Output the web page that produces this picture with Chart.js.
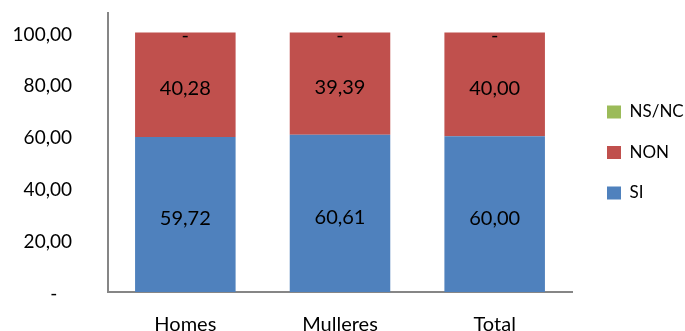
<!DOCTYPE html>
<html>
<head>
<meta charset="utf-8">
<script src="https://cdn.jsdelivr.net/npm/chart.js@4"></script>
<style>
    html, body { margin: 0; padding: 0; background: #ffffff; }
    #wrap { width: 685px; height: 331px; }
</style>
</head>
<body>
<div id="wrap"><canvas id="surveyChart" width="685" height="331"></canvas></div>
<script>
const categories = ["Homes", "Mulleres", "Total"];
const siValues = [59.72, 60.61, 60.00];
const nonValues = [40.28, 39.39, 40.00];
const nsncValues = [0, 0, 0];
const yTicks = [0, 20, 40, 60, 80, 100];

const FONT = "Lato";
const TEXT_COLOR = "#000000";
const AXIS_COLOR = "#868686";

// Excel style: comma decimals, zero shown as a dash
function formatValue(v) {
    if (v === 0) return "-";
    return v.toFixed(2).replace(".", ",");
}

// Value labels in the middle of every segment
const segmentLabels = {
    id: "segmentLabels",
    afterDatasetsDraw(chart) {
        const { ctx } = chart;
        ctx.save();
        ctx.font = `20px ${FONT}`;
        ctx.fillStyle = TEXT_COLOR;
        ctx.textAlign = "center";
        ctx.textBaseline = "middle";
        chart.data.datasets.forEach((ds, i) => {
            const meta = chart.getDatasetMeta(i);
            if (meta.hidden) return;
            meta.data.forEach((bar, j) => {
                const v = ds.data[j];
                const y = v === 0 ? bar.y + 3 : (bar.y + bar.base) / 2 + 4;
                ctx.fillText(formatValue(v), bar.x, y);
            });
        });
        ctx.restore();
    }
};

function buildDataset(label, data, color) {
    return {
        label,
        data,
        backgroundColor: color,
        borderWidth: 0,
        barPercentage: 0.65,
        categoryPercentage: 1
    };
}

// the tick padding should not push the plot area in
function noScalePadding(scale) {
    scale.paddingTop = 0;
    scale.paddingBottom = 0;
    scale.paddingLeft = 0;
    scale.paddingRight = 0;
}

const chart = new Chart(document.getElementById("surveyChart"), {
    type: "bar",
    data: {
        labels: categories,
        datasets: [
            buildDataset("SI", siValues, "#4F81BD"),
            buildDataset("NON", nonValues, "#C0504D"),
            buildDataset("NS/NC", nsncValues, "#9BBB59")
        ]
    },
    options: {
        responsive: false,
        animation: false,
        layout: { padding: { top: 13, right: 0, bottom: 0, left: 0 } },
        plugins: {
            legend: {
                position: "right",
                reverse: true,
                fullSize: false,
                maxWidth: 101.5,
                labels: {
                    boxWidth: 14,
                    boxHeight: 13,
                    padding: 23.5,
                    color: TEXT_COLOR,
                    font: { family: FONT, size: 17 }
                }
            },
            tooltip: { enabled: false }
        },
        scales: {
            x: {
                stacked: true,
                grid: { display: false, drawTicks: false },
                border: { color: AXIS_COLOR, width: 2 },
                ticks: {
                    color: TEXT_COLOR,
                    padding: 21,
                    font: { family: FONT, size: 20 }
                },
                afterFit(scale) {
                    scale.height = 39;
                    noScalePadding(scale);
                }
            },
            y: {
                stacked: true,
                min: 0,
                max: 107.5,
                grid: { display: false, drawTicks: false },
                border: { color: AXIS_COLOR, width: 2 },
                ticks: {
                    color: TEXT_COLOR,
                    padding: 36,
                    labelOffset: 2,
                    font: { family: FONT, size: 19 },
                    callback: v => v === 0 ? "-   " : formatValue(v)
                },
                afterBuildTicks(scale) {
                    scale.ticks = yTicks.map(v => ({ value: v }));
                },
                afterFit(scale) {
                    scale.width = 108;
                    noScalePadding(scale);
                }
            },
            // empty spacer between the plot and the legend
            gap: {
                position: "right",
                display: true,
                grid: { display: false, drawTicks: false },
                border: { display: false },
                ticks: { display: false },
                afterFit(scale) {
                    scale.width = 11.5;
                    noScalePadding(scale);
                }
            }
        }
    },
    plugins: [segmentLabels]
});
</script>
</body>
</html>
